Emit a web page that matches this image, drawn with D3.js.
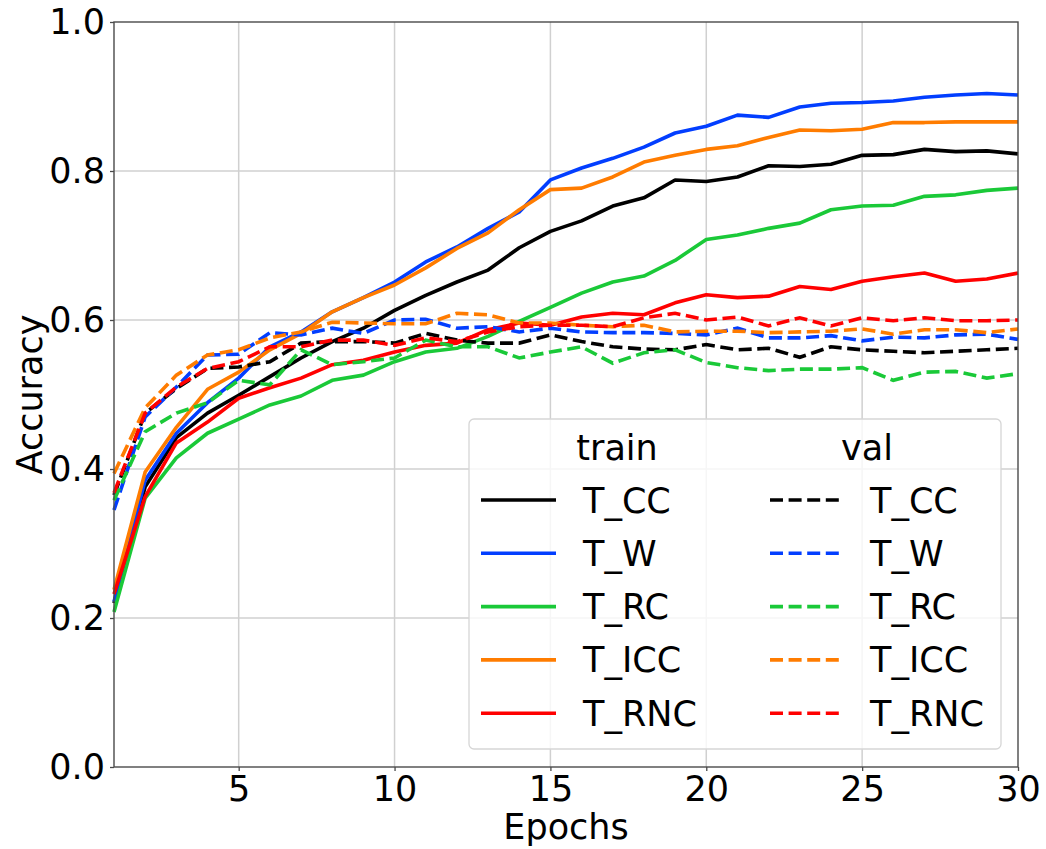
<!DOCTYPE html>
<html>
<head>
<meta charset="utf-8">
<script src="https://cdn.jsdelivr.net/npm/d3@7"></script>
<style>
  body { margin: 0; background: #fff; }
  svg { display: block; font-family: "DejaVu Sans", sans-serif; }
</style>
</head>
<body>
<svg id="chart" width="1046" height="849"></svg>
<script>
/** epochs on the x axis */
const epochs = [1, 2, 3, 4, 5, 6, 7, 8, 9, 10, 11, 12, 13, 14, 15, 16, 17, 18, 19, 20, 21, 22, 23, 24, 25, 26, 27, 28, 29, 30];

/** model names, shared by train and val */
const names = ["T_CC", "T_W", "T_RC", "T_ICC", "T_RNC"];

/** train accuracy per model */
const trainCC = [0.22, 0.376, 0.442, 0.475, 0.499, 0.524, 0.549, 0.571, 0.589, 0.613, 0.633, 0.651, 0.667, 0.697, 0.719, 0.733, 0.753, 0.764, 0.788, 0.786, 0.792, 0.807, 0.806, 0.809, 0.821, 0.822, 0.829, 0.826, 0.827, 0.823];
const trainW = [0.222, 0.385, 0.448, 0.489, 0.522, 0.564, 0.584, 0.611, 0.63, 0.651, 0.678, 0.698, 0.723, 0.745, 0.788, 0.804, 0.817, 0.832, 0.851, 0.86, 0.875, 0.872, 0.886, 0.891, 0.892, 0.894, 0.899, 0.902, 0.904, 0.902];
const trainRC = [0.208, 0.361, 0.415, 0.448, 0.467, 0.486, 0.498, 0.519, 0.526, 0.544, 0.557, 0.562, 0.578, 0.598, 0.617, 0.636, 0.651, 0.659, 0.68, 0.708, 0.714, 0.723, 0.73, 0.748, 0.753, 0.754, 0.766, 0.768, 0.774, 0.777];
const trainICC = [0.238, 0.396, 0.456, 0.507, 0.53, 0.56, 0.582, 0.611, 0.63, 0.647, 0.67, 0.696, 0.717, 0.748, 0.775, 0.777, 0.792, 0.812, 0.821, 0.829, 0.834, 0.845, 0.855, 0.854, 0.856, 0.865, 0.865, 0.866, 0.866, 0.866];
const trainRNC = [0.232, 0.363, 0.435, 0.463, 0.495, 0.509, 0.522, 0.54, 0.546, 0.557, 0.566, 0.569, 0.587, 0.596, 0.593, 0.604, 0.609, 0.607, 0.623, 0.634, 0.63, 0.632, 0.645, 0.641, 0.652, 0.658, 0.663, 0.652, 0.655, 0.663];

/** val accuracy per model */
const valCC = [0.365, 0.475, 0.508, 0.535, 0.537, 0.544, 0.569, 0.571, 0.571, 0.569, 0.582, 0.573, 0.569, 0.569, 0.58, 0.571, 0.564, 0.561, 0.56, 0.567, 0.56, 0.562, 0.55, 0.564, 0.56, 0.558, 0.556, 0.558, 0.56, 0.562];
const valW = [0.345, 0.47, 0.51, 0.553, 0.554, 0.583, 0.58, 0.589, 0.582, 0.6, 0.601, 0.589, 0.591, 0.584, 0.589, 0.584, 0.583, 0.583, 0.582, 0.58, 0.589, 0.576, 0.576, 0.579, 0.572, 0.577, 0.576, 0.58, 0.581, 0.574];
const valRC = [0.358, 0.45, 0.475, 0.489, 0.519, 0.513, 0.56, 0.54, 0.544, 0.549, 0.573, 0.564, 0.564, 0.549, 0.557, 0.564, 0.542, 0.556, 0.56, 0.543, 0.536, 0.532, 0.534, 0.534, 0.536, 0.519, 0.53, 0.531, 0.522, 0.528];
const valICC = [0.394, 0.482, 0.526, 0.553, 0.56, 0.576, 0.584, 0.597, 0.596, 0.595, 0.595, 0.609, 0.607, 0.596, 0.596, 0.593, 0.591, 0.593, 0.584, 0.585, 0.585, 0.583, 0.584, 0.585, 0.588, 0.581, 0.587, 0.587, 0.583, 0.588];
const valRNC = [0.368, 0.475, 0.51, 0.535, 0.544, 0.564, 0.564, 0.573, 0.573, 0.566, 0.576, 0.571, 0.584, 0.591, 0.593, 0.593, 0.591, 0.603, 0.609, 0.6, 0.604, 0.592, 0.603, 0.592, 0.603, 0.599, 0.603, 0.599, 0.599, 0.6];

/** tick values */
const xTicks = [5, 10, 15, 20, 25, 30];
const yTicks = [0.0, 0.2, 0.4, 0.6, 0.8, 1.0];

const colors = ["#000000", "#023eff", "#1ac938", "#ff7c00", "#ff0000"];
const trainSeries = [trainCC, trainW, trainRC, trainICC, trainRNC];
const valSeries = [valCC, valW, valRC, valICC, valRNC];

const svg = d3.select("#chart");
const plotLeft = 114, plotRight = 1018, plotTop = 22, plotBottom = 767;
const fontSize = 35;
const dash = "13,5.6";

/** scales */
const x = d3.scaleLinear().domain([1, 30]).range([plotLeft, plotRight]);
const y = d3.scaleLinear().domain([0, 1]).range([plotBottom, plotTop]);

/** grid */
const grid = svg.append("g").attr("stroke", "#d0d0d0").attr("stroke-width", 1.5);
for (const t of xTicks.slice(0, -1))
  grid.append("line").attr("x1", x(t)).attr("x2", x(t)).attr("y1", plotTop).attr("y2", plotBottom);
for (const t of yTicks.slice(1, -1))
  grid.append("line").attr("x1", plotLeft).attr("x2", plotRight).attr("y1", y(t)).attr("y2", y(t));

/** lines */
const line = d3.line().x((d, i) => x(epochs[i])).y((d) => y(d));
const plot = svg.append("g");
trainSeries.forEach((data, i) =>
  plot.append("path").attr("d", line(data)).attr("fill", "none")
    .attr("stroke", colors[i]).attr("stroke-width", 3.6).attr("stroke-linejoin", "round"));
valSeries.forEach((data, i) =>
  plot.append("path").attr("d", line(data)).attr("fill", "none")
    .attr("stroke", colors[i]).attr("stroke-width", 3.6).attr("stroke-dasharray", dash));

/** frame */
svg.append("rect").attr("x", plotLeft).attr("y", plotTop)
  .attr("width", plotRight - plotLeft).attr("height", plotBottom - plotTop)
  .attr("fill", "none").attr("stroke", "#4a4a4a").attr("stroke-width", 1.4);

/** axes */
const styleAxis = (g) => {
  g.select(".domain").remove();
  g.selectAll(".tick line").attr("stroke", "#4a4a4a").attr("stroke-width", 1.3);
  g.selectAll("text").attr("font-size", fontSize).attr("font-family", "DejaVu Sans").attr("fill", "#000");
};
svg.append("g").attr("transform", `translate(0,${plotBottom})`)
  .call(d3.axisBottom(x).tickValues(xTicks).tickFormat(d3.format("d")).tickSize(4).tickPadding(5))
  .call(styleAxis);
svg.append("g").attr("transform", `translate(${plotLeft},0)`)
  .call(d3.axisLeft(y).tickValues(yTicks).tickFormat(d3.format(".1f")).tickSize(4).tickPadding(5))
  .call(styleAxis);

/** axis labels */
svg.append("text").text("Epochs").attr("x", (plotLeft + plotRight) / 2).attr("y", 839)
  .attr("text-anchor", "middle").attr("font-size", fontSize);
svg.append("text").text("Accuracy")
  .attr("transform", `translate(42,${(plotTop + plotBottom) / 2}) rotate(-90)`)
  .attr("text-anchor", "middle").attr("font-size", fontSize);

/** legend */
const lg = svg.append("g");
lg.append("rect").attr("x", 469).attr("y", 419).attr("width", 532).attr("height", 330).attr("rx", 5)
  .attr("fill", "#fff").attr("fill-opacity", 0.8).attr("stroke", "#d6d6d6").attr("stroke-width", 1.3);
lg.append("text").text("train").attr("x", 617).attr("y", 460).attr("text-anchor", "middle").attr("font-size", fontSize);
lg.append("text").text("val").attr("x", 867).attr("y", 460).attr("text-anchor", "middle").attr("font-size", fontSize);
const row = d3.scaleLinear().domain([0, 1]).range([500, 553.3]);
const cols = [
  { x0: 481, x1: 556, tx: 583, dash: null },
  { x0: 770, x1: 842, tx: 870, dash: dash },
];
for (const c of cols)
  names.forEach((name, i) => {
    lg.append("line").attr("x1", c.x0).attr("x2", c.x1).attr("y1", row(i)).attr("y2", row(i))
      .attr("stroke", colors[i]).attr("stroke-width", 3.6).attr("stroke-dasharray", c.dash);
    lg.append("text").text(name).attr("x", c.tx).attr("y", row(i) + 12.5).attr("font-size", fontSize);
  });
</script>
</body>
</html>
